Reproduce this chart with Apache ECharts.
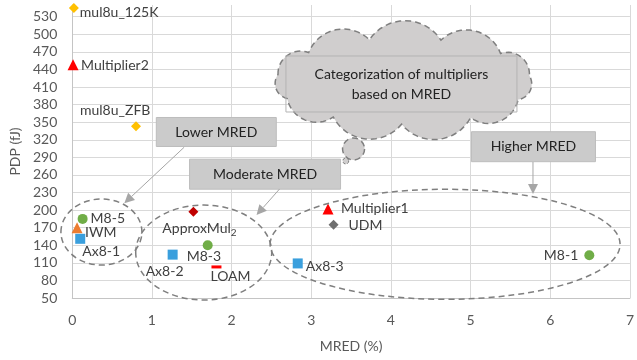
<!DOCTYPE html>
<html>
<head>
<meta charset="utf-8">
<script src="https://cdn.jsdelivr.net/npm/echarts@6/dist/echarts.min.js"></script>
<style>
  html, body { margin: 0; padding: 0; background: #fff; }
  #chart { width: 637px; height: 360px; }
</style>
</head>
<body>
<div id="chart"></div>
<script>
// data
var names = ['mul8u_125K', 'Multiplier2', 'mul8u_ZFB', 'M8-5', 'IWM', 'Ax8-1', 'Ax8-2',
             'ApproxMul2', 'M8-3', 'LOAM', 'Ax8-3', 'Multiplier1', 'UDM', 'M8-1'];
var mred = [0.02, 0.01, 0.80, 0.13, 0.06, 0.10, 1.26, 1.52, 1.70, 1.81, 2.83, 3.21, 3.28, 6.49];
var pdp = [545, 448, 343, 185, 170, 151, 124, 197, 140, 103, 109, 202, 175, 123];
var xTicks = [0, 1, 2, 3, 4, 5, 6, 7];
var yTicks = [50, 80, 110, 140, 170, 200, 230, 260, 290, 320, 350, 380, 410, 440, 470, 500, 530];
var yTop = 550;

var FONT = 'Lato, "Noto Sans", sans-serif';
var LABEL_C = '#404040';

// marker look + label placement [align, dx, dy] per point
var look = {
    'mul8u_125K':  { sym: 'diamond',  size: 10, color: '#FFC000', lab: ['left', 6, 5] },
    'Multiplier2': { sym: 'triangle', size: 11, color: '#FF0000', lab: ['left', 8, 1] },
    'mul8u_ZFB':   { sym: 'diamond',  size: 10, color: '#FFC000', lab: ['left', -56, -16] },
    'M8-5':        { sym: 'circle',   size: 10, color: '#70AD47', lab: ['left', 8, 0] },
    'IWM':         { sym: 'triangle', size: 11, color: '#ED7D31', lab: ['left', 8, 5] },
    'Ax8-1':       { sym: 'rect',     size: 10, color: '#3A9FDD', lab: ['left', 2, 13] },
    'Ax8-2':       { sym: 'rect',     size: 10, color: '#3A9FDD', lab: ['left', -27, 17] },
    'ApproxMul2':  { sym: 'diamond',  size: 10, color: '#C00000', lab: ['left', -31, 17] },
    'M8-3':        { sym: 'circle',   size: 10, color: '#70AD47', lab: ['left', -21, 11] },
    'LOAM':        { sym: 'rect',     size: [10, 3], color: '#FF0000', lab: ['left', -6, 10] },
    'Ax8-3':       { sym: 'rect',     size: 10, color: '#3A9FDD', lab: ['left', 8, 3] },
    'Multiplier1': { sym: 'triangle', size: 11, color: '#FF0000', lab: ['left', 13, 0] },
    'UDM':         { sym: 'diamond',  size: 10, color: '#6E6E6E', lab: ['left', 15, 1] },
    'M8-1':        { sym: 'circle',   size: 10, color: '#70AD47', lab: ['right', -11, 0] }
};

var series = names.map(function (n, i) {
    var s = look[n];
    return {
        name: n,
        type: 'scatter',
        symbol: s.sym,
        symbolSize: s.size,
        itemStyle: { color: s.color, opacity: 1 },
        data: [[mred[i], pdp[i]]],
        label: {
            show: true,
            position: 'inside',
            align: s.lab[0],
            verticalAlign: 'middle',
            offset: [s.lab[1], s.lab[2]],
            color: LABEL_C,
            fontFamily: FONT,
            fontSize: 14,
            formatter: n === 'ApproxMul2' ? '{a|ApproxMul}{b|2}' : n,
            rich: {
                a: { fontSize: 14, lineHeight: 18, color: LABEL_C, fontFamily: FONT },
                b: { fontSize: 10, lineHeight: 10, verticalAlign: 'bottom', color: LABEL_C, fontFamily: FONT }
            }
        },
        emphasis: { disabled: true },
        z: 5
    };
});

var option = {
    backgroundColor: '#fff',
    animation: false,
    textStyle: { fontFamily: FONT },
    grid: { left: 70, right: 2, top: 5, bottom: 62, containLabel: false },
    xAxis: {
        type: 'value',
        min: xTicks[0],
        max: xTicks[xTicks.length - 1],
        interval: xTicks[1] - xTicks[0],
        name: 'MRED (%)',
        nameLocation: 'middle',
        nameGap: 41,
        nameTextStyle: { color: '#595959', fontSize: 14, fontFamily: FONT },
        axisLine: { show: true, lineStyle: { color: '#C4C4C4', width: 1 } },
        axisTick: { show: false },
        axisLabel: { color: '#595959', fontSize: 14, fontFamily: FONT, margin: 15 },
        splitLine: { show: true, lineStyle: { color: '#D9D9D9', width: 1 } }
    },
    yAxis: {
        type: 'value',
        min: yTicks[0],
        max: yTop,
        interval: yTicks[1] - yTicks[0],
        name: 'PDP (fJ)',
        nameLocation: 'middle',
        nameGap: 48,
        nameTextStyle: { color: '#595959', fontSize: 14, fontFamily: FONT },
        axisLine: { show: true, lineStyle: { color: '#C4C4C4', width: 1 } },
        axisTick: { show: false },
        axisLabel: { color: '#595959', fontSize: 14, fontFamily: FONT, margin: 15, showMaxLabel: false },
        splitLine: { show: true, showMaxLine: false, lineStyle: { color: '#D9D9D9', width: 1 } }
    },
    series: series
};

var chart = echarts.init(document.getElementById('chart'));
chart.setOption(option);

// annotations, anchored in data coordinates
var groups = [
    { c: [0.366, 162.6], rx: 40.5, ry: 33 },
    { c: [1.65, 127.6], rx: 68, ry: 47.5 },
    { c: [4.68, 141.6], rx: 175, ry: 55 }
];
var boxes = [
    { text: 'Lower MRED',    c: [1.808, 333.3], w: 120, h: 29 },
    { text: 'Moderate MRED', c: [2.42, 261.3],  w: 151, h: 30 },
    { text: 'Higher MRED',   c: [5.789, 308.2], w: 124, h: 30 }
];
var arrows = [
    [[1.404, 307.2], [0.653, 211.6]],
    [[2.602, 236.0], [2.313, 191.6]],
    [[5.783, 282.1], [5.783, 227.5]]
];

function px(p) { return chart.convertToPixel({ gridIndex: 0 }, p); }

// cloud outline as a polygon: bumps (circle arcs) between points on an ellipse
function cloudPoints(cx, cy, rx, ry, n, start) {
    var pts = [], out = [];
    for (var i = 0; i < n; i++) {
        var t = start + 2 * Math.PI * i / n;
        pts.push([cx + rx * Math.cos(t), cy + ry * Math.sin(t)]);
    }
    for (i = 0; i < n; i++) {
        var a = pts[i], b = pts[(i + 1) % n];
        var dx = b[0] - a[0], dy = b[1] - a[1], c = Math.hypot(dx, dy);
        var r = c * 0.6, h = Math.sqrt(r * r - c * c / 4);
        var ux = dx / c, uy = dy / c;
        var ox = (a[0] + b[0]) / 2 - uy * h, oy = (a[1] + b[1]) / 2 + ux * h;
        var a0 = Math.atan2(a[1] - oy, a[0] - ox), a1 = Math.atan2(b[1] - oy, b[0] - ox);
        var d = a1 - a0;
        while (d > Math.PI) d -= 2 * Math.PI;
        while (d <= -Math.PI) d += 2 * Math.PI;
        for (var k = 0; k < 16; k++) {
            var ang = a0 + d * k / 16;
            out.push([ox + r * Math.cos(ang), oy + r * Math.sin(ang)]);
        }
    }
    return out;
}

var dashed = { stroke: '#7F7F7F', lineWidth: 1.5, lineDash: [6, 4] };
var els = [];

groups.forEach(function (g) {
    var p = px(g.c);
    els.push({
        type: 'ellipse', z: 50,
        shape: { cx: p[0], cy: p[1], rx: g.rx, ry: g.ry },
        style: Object.assign({ fill: null }, dashed)
    });
});

// thought bubble
var cp = px([4.157, 420]);
var b1 = px([3.531, 304.3]);
var b2 = px([3.433, 283.8]);
els.push({ type: 'circle', z: 50, shape: { cx: b2[0], cy: b2[1], r: 3 },
    style: Object.assign({ fill: '#D0CECE' }, dashed, { lineWidth: 1, lineDash: [3, 2] }) });
els.push({ type: 'circle', z: 50, shape: { cx: b1[0], cy: b1[1], r: 11 },
    style: Object.assign({ fill: '#D0CECE' }, dashed) });
els.push({ type: 'polygon', z: 51,
    shape: { points: cloudPoints(cp[0], cp[1], 127, 43, 11, -Math.PI * 0.95) },
    style: Object.assign({ fill: '#D0CECE' }, dashed) });
var ip = px([4.132, 415.2]);
els.push({ type: 'rect', z: 52, shape: { x: ip[0] - 115.5, y: ip[1] - 28, width: 231, height: 56 },
    style: { fill: null, stroke: '#B4B4B4', lineWidth: 1 } });
['Categorization of multipliers', 'based on MRED'].forEach(function (t, i) {
    els.push({ type: 'text', z: 53,
        style: { text: t, x: ip[0], y: ip[1] - 10 + i * 20, fill: '#222', font: '14px ' + FONT,
                 align: 'center', verticalAlign: 'middle', textAlign: 'center', textVerticalAlign: 'middle' } });
});

boxes.forEach(function (b) {
    var p = px(b.c);
    els.push({ type: 'rect', z: 50,
        shape: { x: p[0] - b.w / 2, y: p[1] - b.h / 2, width: b.w, height: b.h },
        style: { fill: '#CBCBCB', stroke: '#BDBDBD', lineWidth: 1 } });
    els.push({ type: 'text', z: 51,
        style: { text: b.text, x: p[0], y: p[1], fill: '#222', font: '14px ' + FONT,
                 align: 'center', verticalAlign: 'middle', textAlign: 'center', textVerticalAlign: 'middle' } });
});

arrows.forEach(function (a) {
    var s = px(a[0]), e = px(a[1]);
    var dx = e[0] - s[0], dy = e[1] - s[1], L = Math.hypot(dx, dy);
    var ux = dx / L, uy = dy / L, hl = 10, hw = 5;
    var bx = e[0] - ux * hl, by = e[1] - uy * hl;
    els.push({ type: 'line', z: 50, shape: { x1: s[0], y1: s[1], x2: bx, y2: by },
        style: { stroke: '#A6A6A6', lineWidth: 1 } });
    els.push({ type: 'polygon', z: 50,
        shape: { points: [[e[0], e[1]], [bx - uy * hw, by + ux * hw], [bx + uy * hw, by - ux * hw]] },
        style: { fill: '#A6A6A6' } });
});

chart.setOption({ graphic: { elements: els } });
</script>
</body>
</html>
